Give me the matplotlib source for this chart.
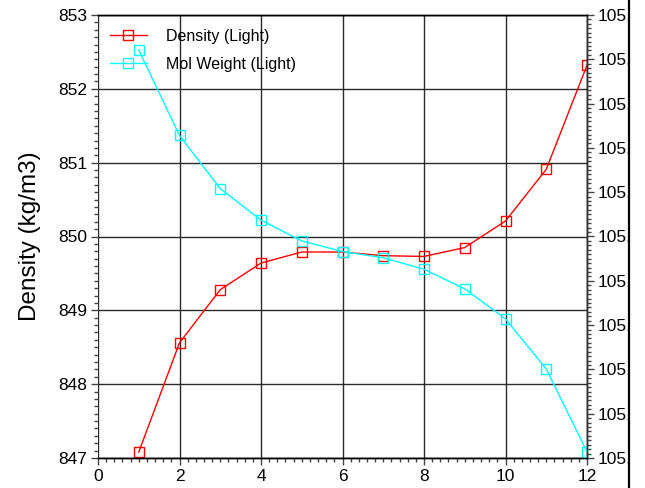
import matplotlib
matplotlib.use("Agg")
import matplotlib.pyplot as plt
from matplotlib.ticker import MultipleLocator, AutoMinorLocator, FormatStrFormatter
from matplotlib.patches import Rectangle
from matplotlib.lines import Line2D

plt.rcParams['font.family'] = ['Liberation Sans', 'DejaVu Sans']

# Light-end property profile along the sample index
sample = [1, 2, 3, 4, 5, 6, 7, 8, 9, 10, 11, 12]
density_light = [847.08, 848.56, 849.28, 849.64, 849.79, 849.79,
                 849.74, 849.73, 849.85, 850.21, 850.91, 852.32]
molweight_light = [105.0921, 105.0728, 105.0608, 105.0537, 105.0490, 105.0466,
                   105.0452, 105.0426, 105.0382, 105.0314, 105.0201, 105.0014]

x_ticks = [0, 2, 4, 6, 8, 10, 12]
density_range = (847, 853)
mw_range = (105.00, 105.10)

fig = plt.figure(figsize=(6.45, 4.88), dpi=100)
ax = fig.add_axes([98 / 645, 1 - 458 / 488, (587 - 98) / 645, (458 - 15) / 488])
ax2 = ax.twinx()

red = '#ff0000'
cyan = '#00ffff'
mkw = dict(marker='s', markersize=7, markerfacecolor='none', markeredgewidth=1.0, linewidth=1.0)

l1, = ax.plot(sample, density_light, color=red, label='Density (Light)', **mkw)
l2, = ax2.plot(sample, molweight_light, color=cyan, label='Mol Weight (Light)', **mkw)

ax.set_xlim(0, 12)
ax.set_ylim(*density_range)
ax2.set_ylim(*mw_range)
ax.set_xticks(x_ticks)
ax.yaxis.set_major_locator(MultipleLocator(1))
ax.xaxis.set_minor_locator(AutoMinorLocator(10))
ax.yaxis.set_minor_locator(AutoMinorLocator(10))
ax2.yaxis.set_major_locator(MultipleLocator(0.01))
ax2.yaxis.set_minor_locator(AutoMinorLocator(10))
ax2.yaxis.set_major_formatter(FormatStrFormatter('%.2f'))

ax.grid(True, which='major', color='#2a2a2a', linewidth=1.0)
ax.set_axisbelow(True)

tick_col = '#444444'
for a in (ax, ax2):
    a.tick_params(which='major', length=5, width=1.0, color=tick_col, labelsize=12.5, pad=3)
    a.tick_params(which='minor', length=3, width=1.0, color=tick_col)
    for s in a.spines.values():
        s.set_color('black')
        s.set_linewidth(1.0)
    a.spines['left'].set_visible(False)
ax2.spines['right'].set_color('#333333')

ax.set_ylabel('Density (kg/m3)', fontsize=17.5, labelpad=12)

leg = ax.legend(handles=[l1, l2], loc='upper left', bbox_to_anchor=(0.005, 0.99),
                frameon=False, fontsize=11.5, handlelength=2.3, handletextpad=1.2,
                labelspacing=0.8, borderaxespad=0.2)
leg.set_zorder(5)

# Window edge on the right: labels are cut off by the border
fig.add_artist(Rectangle((629.5 / 645, 0), 1, 1, transform=fig.transFigure,
                         facecolor='white', edgecolor='none', zorder=20))
fig.add_artist(Line2D([628.5 / 645, 628.5 / 645], [0, 1], transform=fig.transFigure,
                      color='black', linewidth=1.6, zorder=21))

fig.savefig('out.png', dpi=100)
